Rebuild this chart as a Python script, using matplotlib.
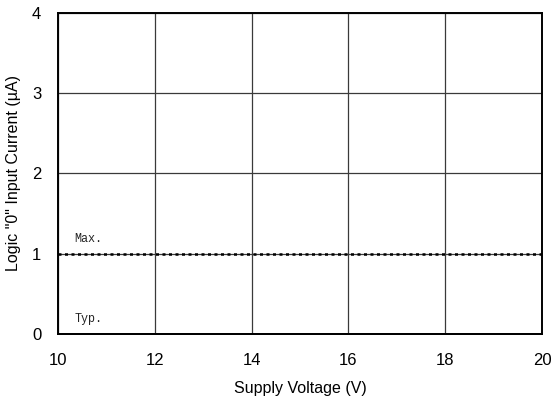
import numpy as np
import matplotlib.pyplot as plt

# data
supply_v = [10, 12, 14, 16, 18, 20]
i_max = [1.0, 1.0, 1.0, 1.0, 1.0, 1.0]
i_typ = [0.0, 0.0, 0.0, 0.0, 0.0, 0.0]
x_ticks = [10, 12, 14, 16, 18, 20]
y_ticks = [0, 1, 2, 3, 4]

plt.rcParams['font.family'] = ['Liberation Sans', 'DejaVu Sans']

fig = plt.figure(figsize=(5.52, 4.04), dpi=100)
ax = fig.add_axes([0.1051, 0.1733, 0.8768, 0.7946])

ax.plot(supply_v, i_typ, color='black', lw=1.2, zorder=3, clip_on=False)
ax.plot(supply_v, i_max, color='black', lw=1.8, linestyle=(0, (1.2, 1.4)), zorder=3)

ax.set_xlim(10, 20)
ax.set_ylim(0, 4)
ax.set_xticks(x_ticks)
ax.set_yticks(y_ticks)
ax.grid(True, color='#3a3a3a', lw=0.9)
for s in ax.spines.values():
    s.set_linewidth(1.4)
ax.tick_params(axis='both', length=0, labelsize=12)
ax.tick_params(axis='x', pad=14)
ax.tick_params(axis='y', pad=12)

ax.text(10.34, 1.14, 'Max.', family='Liberation Mono', fontsize=8.5, color='#222222')
ax.text(10.34, 0.15, 'Typ.', family='Liberation Mono', fontsize=8.5, color='#222222')

ax.set_xlabel('Supply Voltage (V)', fontsize=11.5, labelpad=9)
ax.set_ylabel('Logic "0" Input Current (\u00b5A)', fontsize=11.5, labelpad=8)

fig.savefig('out.png', dpi=100)
